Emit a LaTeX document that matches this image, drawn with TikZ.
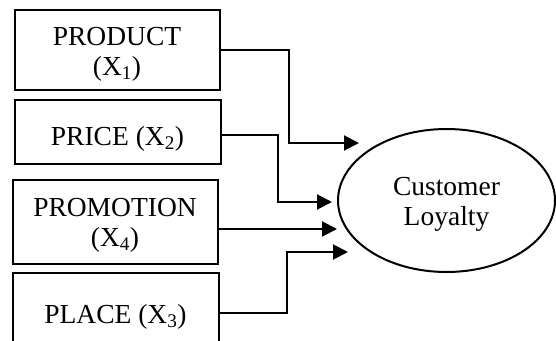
\documentclass[tikz,border=0pt]{standalone}
\usepackage{fontspec}
\setmainfont{Liberation Serif}
\usetikzlibrary{arrows.meta,shapes.geometric}
\begin{document}
\begin{tikzpicture}[x=1pt,y=-1pt,
  box/.style={draw,line width=2pt,rectangle,inner sep=0pt,align=center,font=\fontsize{27.5}{30}\selectfont},
  lifted/.style={text height=#1,text depth=0pt},
  oval/.style={draw,line width=2pt,ellipse,inner sep=0pt,align=center,minimum width=217pt,minimum height=143pt,
    text height=49pt,text depth=0pt,font=\fontsize{27.5}{30}\selectfont},
  arr/.style={line width=2pt,-{Triangle[length=15pt,width=15pt]}}]
\useasboundingbox (0,0) rectangle (556,340);
\clip (0,0) rectangle (556,340);
\node[box,lifted=51pt,minimum width=205pt,minimum height=80pt] (b1) at (117,49.5) {PRODUCT\\(X\textsubscript{1})};
\node[box,lifted=27pt,minimum width=206pt,minimum height=64pt] (b2) at (117.5,131.5) {PRICE (X\textsubscript{2})};
\node[box,lifted=50.4pt,minimum width=205pt,minimum height=84pt] (b3) at (115,221.5) {PROMOTION\\(X\textsubscript{4})};
\node[box,lifted=26pt,minimum width=206pt,minimum height=74pt] (b4) at (115.5,310) {PLACE (X\textsubscript{3})};
\node[oval] (cl) at (446.5,200.5) {Customer\\Loyalty};
\coordinate (t1) at (359,143);
\coordinate (t2) at (332,202);
\coordinate (t3) at (337,229);
\coordinate (t4) at (348,252);
\draw[arr] (b1.east) -- ++(68,0) |- (t1);
\draw[arr] ([yshift=-3.5pt]b2.east) -- ++(56,0) |- (t2);
\draw[arr] ([yshift=-7.5pt]b3.east) -- (t3);
\draw[arr] ([yshift=-3pt]b4.east) -- ++(67,0) |- (t4);
\end{tikzpicture}
\end{document}
